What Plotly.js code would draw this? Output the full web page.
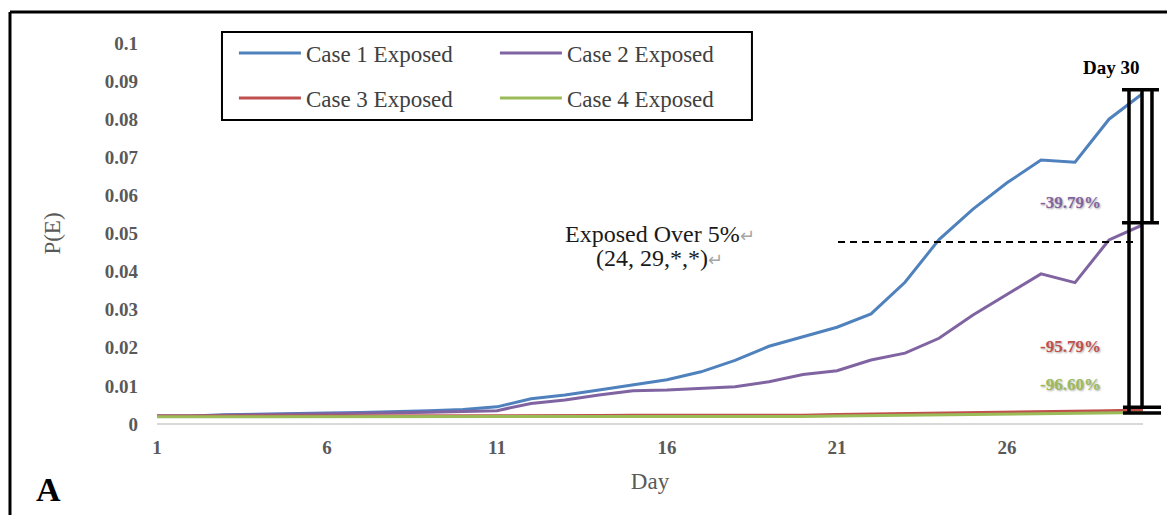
<!DOCTYPE html>
<html>
<head>
<meta charset="utf-8">
<script src="https://cdn.plot.ly/plotly-3.0.1.min.js"></script>
<style>
  html, body { margin: 0; padding: 0; background: #fff; }
  #chart { width: 1167px; height: 515px; }
</style>
</head>
<body>
<div id="chart"></div>
<script>
// ---- data ----
const days = [1,2,3,4,5,6,7,8,9,10,11,12,13,14,15,16,17,18,19,20,21,22,23,24,25,26,27,28,29,30];
const case1Exposed = [0.0021,0.0021,0.0024,0.0026,0.0027,0.0029,0.0030,0.0032,0.0035,0.0038,0.0045,0.0066,0.0076,0.0089,0.0102,0.0116,0.0137,0.0167,0.0204,0.0230,0.0254,0.0289,0.0372,0.0484,0.0564,0.0633,0.0693,0.0687,0.0800,0.0868];
const case2Exposed = [0.0021,0.0021,0.0023,0.0025,0.0026,0.0027,0.0028,0.0029,0.0031,0.0033,0.0035,0.0054,0.0063,0.0076,0.0087,0.0089,0.0093,0.0098,0.0111,0.0130,0.0140,0.0168,0.0186,0.0225,0.0286,0.0339,0.0394,0.0371,0.0483,0.0523];
const case3Exposed = [0.0021,0.0021,0.0021,0.0022,0.0022,0.0022,0.0022,0.0022,0.0022,0.0022,0.0022,0.0022,0.0022,0.0022,0.0023,0.0023,0.0023,0.0023,0.0023,0.0023,0.0025,0.0026,0.0027,0.0029,0.0030,0.0031,0.0032,0.0034,0.0035,0.0037];
const case4Exposed = [0.0019,0.0019,0.0019,0.0019,0.0019,0.0019,0.0019,0.0019,0.0019,0.0019,0.0019,0.0019,0.0019,0.0019,0.0019,0.0019,0.0019,0.0020,0.0020,0.0020,0.0021,0.0022,0.0022,0.0023,0.0024,0.0025,0.0026,0.0027,0.0028,0.0030];
const seriesNames = ["Case 1 Exposed","Case 2 Exposed","Case 3 Exposed","Case 4 Exposed"];
const xTickVals = [1,6,11,16,21,26];
const yTickVals = [0,0.01,0.02,0.03,0.04,0.05,0.06,0.07,0.08,0.09,0.1];
const yTickText = ["0","0.01","0.02","0.03","0.04","0.05","0.06","0.07","0.08","0.09","0.1"];
const reductionLabels = ["-39.79%","-95.79%","-96.60%"];
const thresholdLabel = ["Exposed Over 5%","(24, 29,*,*)"];

// ---- styles ----
const colors = ["#4f81bd","#8064a2","#c0504d","#9bbb59"];
const serif = "Liberation Serif, Times New Roman, serif";
const legendOf = ["legend","legend","legend2","legend2"];

const allSeries = [case1Exposed, case2Exposed, case3Exposed, case4Exposed];
const traces = allSeries.map((ys, i) => ({
  x: days, y: ys, type: "scatter", mode: "lines",
  name: seriesNames[i],
  legend: legendOf[i],
  line: { color: colors[i], width: 3 },
  cliponaxis: false
}));

// bracket geometry (paper x, data y)
const bx = { capL: 0.9787, capR: 1.0162, capL2: 0.9797, capR2: 1.0183, v1: 0.9858, v2: 0.999, v3: 1.0091 };
const by = { top: 0.0877, mid: 0.0528, b1: 0.0044, b2: 0.0029 };
const blk = { color: "#000", width: 3.5 };

const shapes = [
  // outer frame
  { type: "line", xref: "paper", yref: "paper", x0: -0.1491, x1: -0.1491, y0: 1.0814, y1: -0.4, line: { color: "#000", width: 3 } },
  { type: "line", xref: "paper", yref: "paper", x0: -0.1491, x1: 1.1, y0: 1.0814, y1: 1.0814, line: { color: "#000", width: 3 } },
  // legend box
  { type: "rect", xref: "paper", yref: "paper", x0: 0.0659, x1: 0.6034, y0: 0.7979, y1: 1.0289, line: { color: "#000", width: 2 } },
  // dashed threshold
  { type: "line", xref: "x", yref: "y", x0: 21.03, x1: 29.76, y0: 0.0478, y1: 0.0478, line: { color: "#000", width: 2, dash: "7px,5px" } },
  // brackets
  { type: "line", xref: "paper", yref: "y", x0: bx.v1, x1: bx.v1, y0: by.top, y1: by.b2, line: blk },
  { type: "line", xref: "paper", yref: "y", x0: bx.v2, x1: bx.v2, y0: by.top, y1: by.b1, line: blk },
  { type: "line", xref: "paper", yref: "y", x0: bx.v3, x1: bx.v3, y0: by.top, y1: by.mid, line: blk },
  { type: "line", xref: "paper", yref: "y", x0: bx.capL, x1: bx.capR, y0: by.top, y1: by.top, line: blk },
  { type: "line", xref: "paper", yref: "y", x0: bx.capL, x1: bx.capR, y0: by.mid, y1: by.mid, line: blk },
  { type: "line", xref: "paper", yref: "y", x0: bx.capL2, x1: bx.capR2, y0: by.b1, y1: by.b1, line: blk },
  { type: "line", xref: "paper", yref: "y", x0: bx.capL2, x1: bx.capR2, y0: by.b2, y1: by.b2, line: blk }
];

const shadow = "text-shadow:1px 1px 2px rgba(0,0,0,0.35)";
function ann(x, y, text, font) {
  return { xref: "paper", yref: "paper", x: x, y: y, xanchor: "center", yanchor: "middle",
           text: text, showarrow: false, font: font };
}
const arrowMark = '<span style="color:#a6a6a6;font-size:18px">↵</span>';
const annotations = [
  ann(0.9675, 0.9344, "<b>Day 30</b>", { family: serif, size: 19, color: "#000" }),
  ann(0.9260, 0.5801, `<b><span style="${shadow}">${reductionLabels[0]}</span></b>`, { family: serif, size: 17, color: colors[1] }),
  ann(0.9260, 0.2021, `<b><span style="${shadow}">${reductionLabels[1]}</span></b>`, { family: serif, size: 17, color: colors[2] }),
  ann(0.9260, 0.1024, `<b><span style="${shadow}">${reductionLabels[2]}</span></b>`, { family: serif, size: 17, color: colors[3] }),
  ann(0.5101, 0.4987, thresholdLabel[0] + arrowMark, { family: serif, size: 24, color: "#1a1a1a" }),
  ann(0.5101, 0.4357, thresholdLabel[1] + arrowMark, { family: serif, size: 24, color: "#1a1a1a" }),
  ann(-0.1105, -0.1732, "<b>A</b>", { family: serif, size: 34, color: "#000" })
];

const legendBase = {
  orientation: "h", xanchor: "left", yanchor: "middle",
  bgcolor: "rgba(0,0,0,0)", borderwidth: 0,
  entrywidth: 184, entrywidthmode: "pixels", itemwidth: 62,
  font: { family: serif, size: 23, color: "#404040" },
  traceorder: "normal"
};

const layout = {
  width: 1167, height: 515,
  margin: { l: 157, r: 24, t: 43, b: 91, pad: 0 },
  paper_bgcolor: "#fff", plot_bgcolor: "#fff",
  showlegend: true,
  legend: Object.assign({}, legendBase, { x: 0.078, y: 0.9737 }),
  legend2: Object.assign({}, legendBase, { x: 0.078, y: 0.8556 }),
  xaxis: {
    range: [1, 30], tickvals: xTickVals, ticktext: xTickVals.map(String),
    showgrid: false, zeroline: false, showline: false, ticks: "",
    tickfont: { family: serif, size: 19, color: "#595959", weight: "bold" },
    ticklabelstandoff: 10,
    title: { text: "Day", font: { family: serif, size: 23, color: "#595959" }, standoff: 15 }
  },
  yaxis: {
    range: [0, 0.1], tickvals: yTickVals, ticktext: yTickText,
    showgrid: false, zeroline: true, zerolinecolor: "#d9d9d9", zerolinewidth: 1.5, showline: false, ticks: "",
    tickfont: { family: serif, size: 19, color: "#595959", weight: "bold" },
    ticklabelstandoff: 18,
    title: { text: "P(E)", font: { family: serif, size: 23, color: "#595959" }, standoff: 37 }
  },
  shapes: shapes,
  annotations: annotations
};

Plotly.newPlot("chart", traces, layout, { staticPlot: true, displayModeBar: false });
</script>
</body>
</html>
